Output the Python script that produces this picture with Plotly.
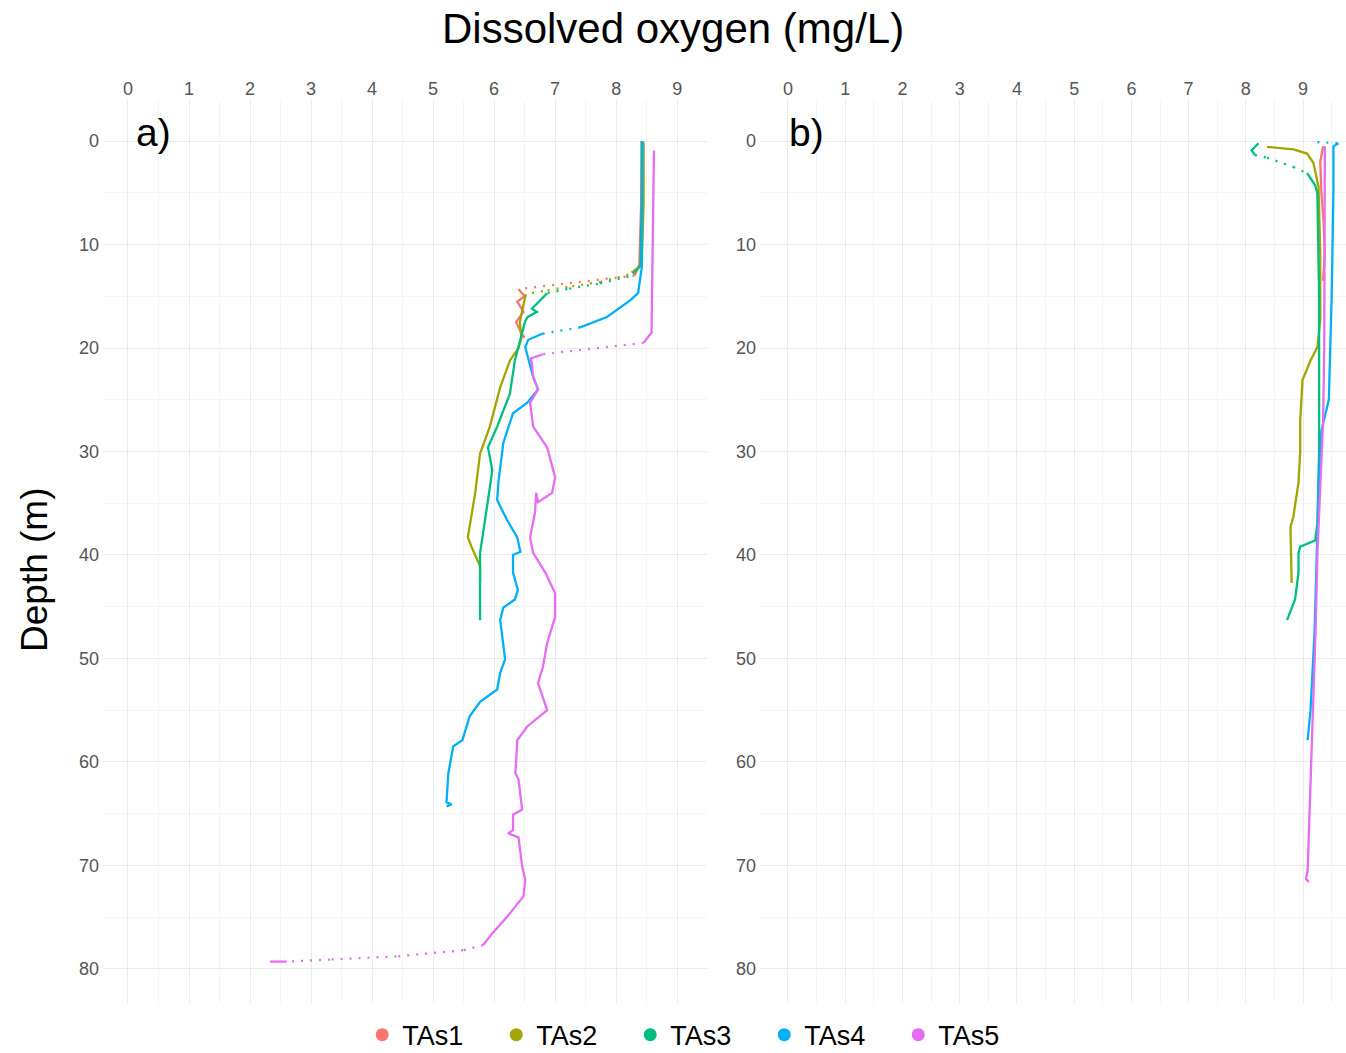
import plotly.graph_objects as go

SERIES = ["TAs1", "TAs2", "TAs3", "TAs4", "TAs5"]
COLORS = ["#F8766D", "#A3A500", "#00BF7D", "#00B0F6", "#E76BF3"]

X_TICKS = [0, 1, 2, 3, 4, 5, 6, 7, 8, 9]
Y_TICKS = [0, 10, 20, 30, 40, 50, 60, 70, 80]

# ---------------- panel a) ----------------
a_tas1_do = [8.42, 8.41, 8.38, 8.30, 6.40, 6.50, 6.38, 6.48, 6.36, 6.45, 6.50]
a_tas1_depth = [0, 6, 12.0, 13.0, 14.3, 15.0, 15.5, 16.5, 17.5, 18.6, 19.0]
a_tas1_gaps = [3]

a_tas2_do = [8.45, 8.45, 8.42, 8.28, 8.20, 7.75, 7.20, 6.80, 6.52, 6.48, 6.42, 6.45, 6.40,
             6.26, 6.10, 5.93, 5.77, 5.69, 5.57, 5.63, 5.77, 5.77]
a_tas2_depth = [0.1, 6, 12.0, 12.6, 12.9, 13.6, 14.1, 14.5, 14.8, 16.0, 17.5, 19.0, 20.0,
                21.2, 23.8, 27.6, 30.2, 34.0, 38.3, 39.2, 41.1, 42.6]
a_tas2_gaps = [3, 4, 5, 6, 7]

a_tas3_do = [8.42, 8.42, 8.40, 8.30, 8.20, 7.70, 7.20, 6.87, 6.72, 6.62, 6.70, 6.55, 6.51,
             6.46, 6.40, 6.34, 6.26, 6.05, 5.90, 5.97, 5.90, 5.82, 5.77, 5.77, 5.77]
a_tas3_depth = [0, 6, 12.0, 12.7, 13.1, 13.8, 14.3, 14.7, 15.6, 16.2, 16.5, 17.0, 17.4,
                18.6, 19.8, 21.2, 24.4, 27.6, 29.6, 31.8, 34.7, 37.9, 39.8, 43.0, 46.3]
a_tas3_gaps = [3, 4, 5, 6]

a_tas4_do = [8.43, 8.43, 8.42, 8.36, 8.23, 7.85, 7.41, 6.80, 6.56, 6.51, 6.56, 6.59, 6.64,
             6.72, 6.54, 6.31, 6.15, 6.07, 6.05, 6.21, 6.38, 6.43, 6.31, 6.31, 6.39, 6.34,
             6.15, 6.10, 6.15, 6.18, 6.10, 6.05, 5.77, 5.60, 5.48, 5.33, 5.25, 5.22, 5.30, 5.22]
a_tas4_depth = [0, 6, 12.2, 14.7, 15.4, 17.0, 18.0, 18.6, 19.2, 19.9, 21.0, 21.5, 22.8,
                24.0, 25.3, 26.3, 29.2, 33.0, 34.7, 36.6, 38.3, 39.7, 40.0, 41.7, 43.4, 44.3,
                45.1, 46.3, 48.5, 50.1, 51.4, 53.0, 54.2, 55.6, 57.9, 58.5, 61.1, 63.9, 64.1, 64.3]
a_tas4_gaps = [6]

a_tas5_do = [8.62, 8.60, 8.58, 8.45, 6.80, 6.60, 6.62, 6.64, 6.72, 6.59, 6.64, 6.87, 7.00,
             6.95, 6.72, 6.69, 6.67, 6.59, 6.64, 6.84, 7.00, 7.00, 6.87, 6.80, 6.72, 6.87,
             6.54, 6.38, 6.35, 6.40, 6.46, 6.31, 6.31, 6.23, 6.40, 6.46, 6.51, 6.48, 6.21,
             5.98, 5.82, 5.49, 4.40, 3.31, 2.60, 2.33]
a_tas5_depth = [0.9, 10, 18.5, 19.5, 20.6, 21.0, 21.5, 22.8, 24.0, 25.3, 27.6, 29.6, 32.5,
                34.0, 34.9, 34.0, 35.9, 38.3, 39.8, 41.7, 43.7, 46.0, 48.5, 50.8, 52.4, 55.0,
                56.6, 57.9, 61.1, 61.7, 64.6, 65.1, 66.6, 66.9, 67.3, 70.1, 71.4, 73.0, 75.0,
                76.5, 77.7, 78.2, 78.8, 79.1, 79.3, 79.3]
a_tas5_gaps = [3, 40, 41, 42, 43]

# ---------------- panel b) ----------------
b_tas1_do = [9.35, 9.30, 9.32, 9.36, 9.38, 9.35]
b_tas1_depth = [0.5, 2.0, 5.0, 8.0, 11.0, 13.5]
b_tas1_gaps = []

b_tas2_do = [8.37, 8.83, 9.07, 9.18, 9.27, 9.30, 9.30, 9.25, 9.13, 8.99, 8.95, 8.95, 8.92,
             8.83, 8.78, 8.80]
b_tas2_depth = [0.55, 0.8, 1.2, 2.1, 4.4, 10.8, 17.3, 19.9, 21.2, 23.1, 27.0, 30.0, 33.0,
                36.3, 37.3, 42.7]
b_tas2_gaps = []

b_tas3_do = [8.22, 8.10, 8.16, 8.37, 8.83, 9.07, 9.21, 9.25, 9.28, 9.28, 9.25, 9.21, 8.95,
             8.92, 8.92, 8.86, 8.72]
b_tas3_depth = [0.2, 0.9, 1.35, 1.6, 2.5, 3.1, 4.25, 5.0, 15, 30, 37, 38.6, 39.2, 39.8,
                41.7, 44.3, 46.3]
b_tas3_gaps = [2, 3, 4]

b_tas4_do = [9.25, 9.62, 9.53, 9.53, 9.50, 9.45, 9.32, 9.28, 9.25, 9.20, 9.13, 9.08]
b_tas4_depth = [0.1, 0.2, 0.5, 5, 15, 25, 28, 32, 38.6, 47.5, 55, 57.9]
b_tas4_gaps = [0]

b_tas5_do = [9.38, 9.38, 9.37, 9.35, 9.30, 9.25, 9.22, 9.17, 9.13, 9.10, 9.08, 9.05, 9.10]
b_tas5_depth = [0.5, 10, 20, 27, 33, 40, 47, 55, 62, 67, 70.5, 71.3, 71.6]
b_tas5_gaps = []

panel_a = [(a_tas1_do, a_tas1_depth, a_tas1_gaps), (a_tas2_do, a_tas2_depth, a_tas2_gaps),
           (a_tas3_do, a_tas3_depth, a_tas3_gaps), (a_tas4_do, a_tas4_depth, a_tas4_gaps),
           (a_tas5_do, a_tas5_depth, a_tas5_gaps)]
panel_b = [(b_tas1_do, b_tas1_depth, b_tas1_gaps), (b_tas2_do, b_tas2_depth, b_tas2_gaps),
           (b_tas3_do, b_tas3_depth, b_tas3_gaps), (b_tas4_do, b_tas4_depth, b_tas4_gaps),
           (b_tas5_do, b_tas5_depth, b_tas5_gaps)]

fig = go.Figure()


def add_profile(do, depth, gaps, color, name, xa, ya):
    sx, sy, dx, dy = [], [], [], []
    for i in range(len(do)):
        sx.append(do[i]); sy.append(depth[i])
        if i in gaps:
            sx.append(None); sy.append(None)
            dx += [do[i], do[i + 1], None]
            dy += [depth[i], depth[i + 1], None]
    fig.add_trace(go.Scatter(x=sx, y=sy, mode="lines", xaxis=xa, yaxis=ya,
                             line=dict(color=color, width=2.3), name=name,
                             legendgroup=name, showlegend=False, hoverinfo="skip"))
    if dx:
        fig.add_trace(go.Scatter(x=dx, y=dy, mode="lines", xaxis=xa, yaxis=ya,
                                 line=dict(color=color, width=2.3, dash="2px,7px"),
                                 name=name, legendgroup=name, showlegend=False,
                                 hoverinfo="skip"))


for (do, dep, gaps), c, n in zip(panel_a, COLORS, SERIES):
    add_profile(do, dep, gaps, c, n, "x", "y")
for (do, dep, gaps), c, n in zip(panel_b, COLORS, SERIES):
    add_profile(do, dep, gaps, c, n, "x2", "y2")

for c, n in zip(COLORS, SERIES):
    fig.add_trace(go.Scatter(x=[None], y=[None], mode="markers", xaxis="x", yaxis="y",
                             marker=dict(color=c, size=13), name=n, legendgroup=n,
                             showlegend=True))

FONT = "Liberation Sans, Arial, sans-serif"
TICKFONT = dict(family=FONT, size=18, color="#555555")
MAJ = "#EBEBEB"
MIN = "#F5F5F5"

xcommon = dict(side="top", tickvals=X_TICKS, showgrid=True, gridcolor=MAJ, gridwidth=1,
               zeroline=False, showline=False, ticks="", tickfont=TICKFONT,
               minor=dict(tickvals=[x + 0.5 for x in range(-1, 10)], showgrid=True,
                          gridcolor=MIN, gridwidth=1))
ycommon = dict(range=[83.3, -3.97], tickvals=Y_TICKS, showgrid=True, gridcolor=MAJ,
               gridwidth=1, zeroline=False, showline=False, ticks="", tickfont=TICKFONT,
               domain=[0.0475, 0.905], ticklabelstandoff=3,
               minor=dict(tickvals=[5, 15, 25, 35, 45, 55, 65, 75], showgrid=True,
                          gridcolor=MIN, gridwidth=1))

fig.update_layout(
    width=1346, height=1053,
    margin=dict(l=0, r=0, t=0, b=0, autoexpand=False),
    paper_bgcolor="white", plot_bgcolor="white",
    font=dict(family=FONT, color="black"),
    xaxis=dict(domain=[0.0765, 0.5253], range=[-0.41, 9.49], anchor="y", **xcommon),
    yaxis=dict(anchor="x", **ycommon),
    xaxis2=dict(domain=[0.5646, 1.0], range=[-0.49, 9.75], anchor="y2", **xcommon),
    yaxis2=dict(anchor="x2", **ycommon),
    legend=dict(orientation="h", x=0.518, xanchor="center", y=0.017, yanchor="middle",
                font=dict(family=FONT, size=27, color="black"), entrywidth=89,
                bgcolor="rgba(0,0,0,0)"),
    showlegend=True,
    annotations=[
        dict(text="Dissolved oxygen (mg/L)", x=0.5, y=0.973, xref="paper", yref="paper",
             showarrow=False, font=dict(size=42, family=FONT, color="black"),
             xanchor="center", yanchor="middle"),
        dict(text="Depth (m)", x=0.026, y=0.4587, xref="paper", yref="paper",
             showarrow=False, textangle=-90, font=dict(size=37, family=FONT, color="black"),
             xanchor="center", yanchor="middle"),
        dict(text="a)", x=0.1144, y=0.8737, xref="paper", yref="paper", showarrow=False,
             font=dict(size=39, family=FONT, color="black"), xanchor="center",
             yanchor="middle"),
        dict(text="b)", x=0.5995, y=0.8737, xref="paper", yref="paper", showarrow=False,
             font=dict(size=39, family=FONT, color="black"), xanchor="center",
             yanchor="middle"),
    ],
)

fig.write_html("out.html")
